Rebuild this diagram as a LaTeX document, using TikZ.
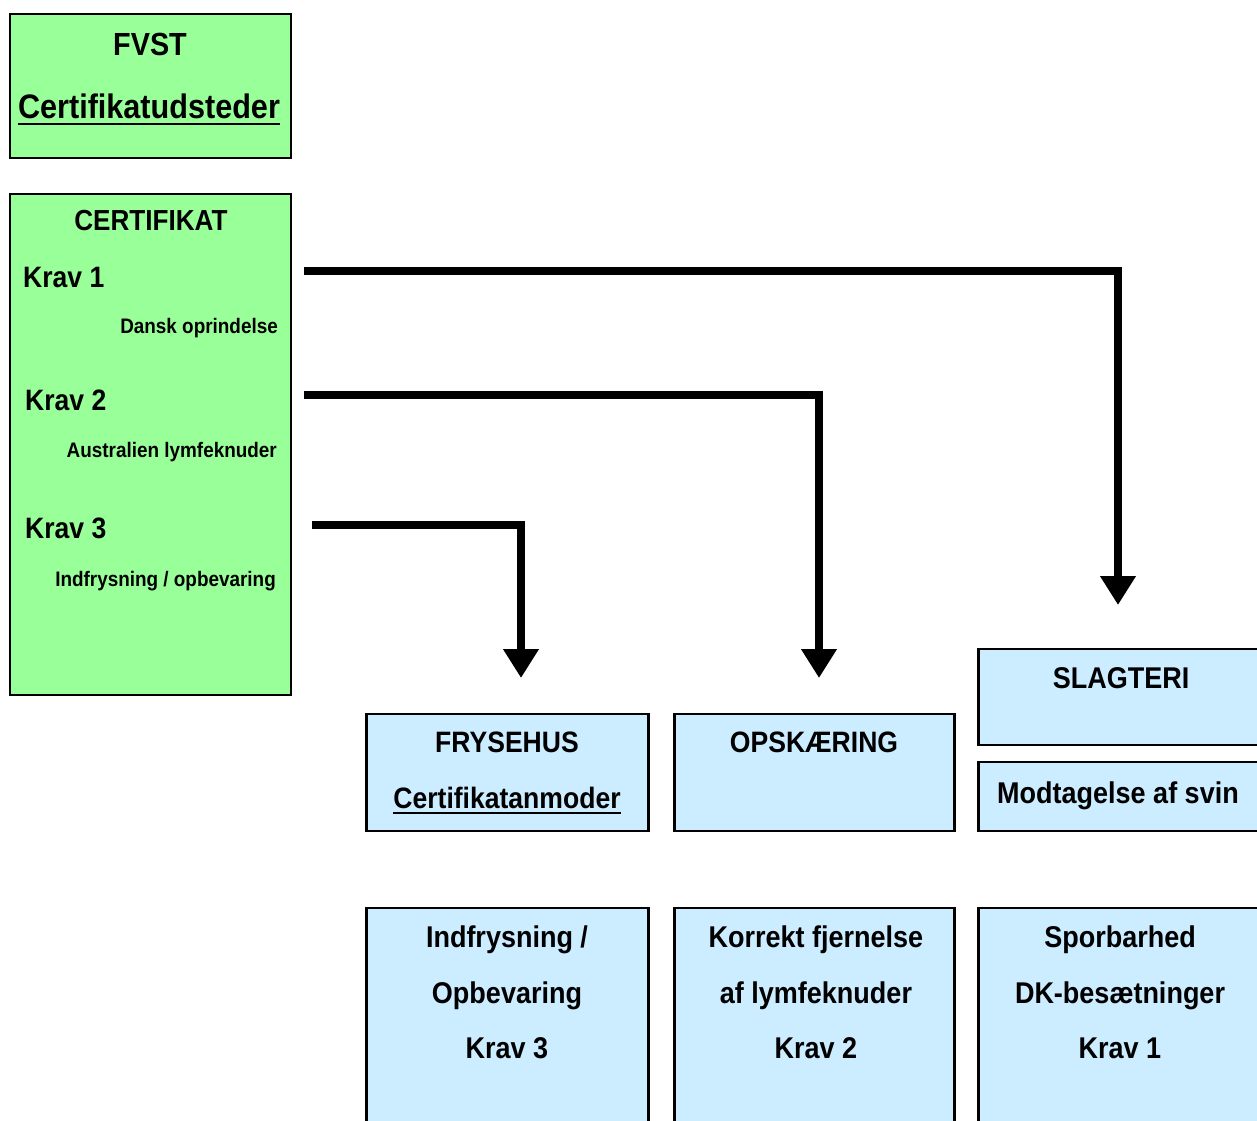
\documentclass[tikz,border=0pt]{standalone}
\usepackage{fontspec}
\setmainfont{Liberation Sans}[FakeStretch=0.9]
\usetikzlibrary{arrows.meta}
\definecolor{boxgreen}{HTML}{99FF99}
\definecolor{boxblue}{HTML}{CCECFF}
\begin{document}
\begin{tikzpicture}[x=1pt,y=-1pt,
  box/.style={draw=black, line width=2.5pt, inner sep=0pt, anchor=north west},
  gbox/.style={box, fill=boxgreen},
  bbox/.style={box, fill=boxblue},
  txt/.style={inner sep=0pt, font=\bfseries\fontsize{#1}{#1}\selectfont},
  txt/.default=30,
  uline/.style={line width=2.2pt},
  conn/.style={line width=8pt, line join=miter, -{Triangle[width=34pt,length=29pt]}}]
\useasboundingbox (0,0) rectangle (1257,1120);
\clip (0,0) rectangle (1257,1120);

% boxes
\node[gbox, minimum width=281pt, minimum height=144pt] (fvst) at (8.5,12.5) {};
\node[gbox, minimum width=281pt, minimum height=501pt] (cert) at (8.5,192.5) {};
\node[bbox, minimum width=282pt, minimum height=117pt] (frys) at (365,712.5) {};
\node[bbox, minimum width=280pt, minimum height=117pt] (opsk) at (673,712.5) {};
\node[bbox, minimum width=280pt, minimum height=96pt] (slag) at (977,647.5) {};
\node[bbox, minimum width=280pt, minimum height=69pt] (modt) at (977,760.5) {};
\node[bbox, minimum width=282pt, minimum height=260pt] (b1) at (365,906.5) {};
\node[bbox, minimum width=280pt, minimum height=260pt] (b2) at (673,906.5) {};
\node[bbox, minimum width=280pt, minimum height=260pt] (b3) at (977,906.5) {};

% FVST texts
\node[txt=32, anchor=base] (fvstt) at (150,55) {FVST};
\node[txt=34, anchor=base] (udst) at (149,118) {Certifikatudsteder};
\draw[uline] ([yshift=-6pt]udst.base west) -- ([yshift=-6pt]udst.base east);

% Certifikat texts
\node[txt=29, anchor=base] (certt) at (151,230) {CERTIFIKAT};
\node[txt=29.5, anchor=base west] (k1) at (23,287) {Krav 1};
\node[txt=21, anchor=base east] (k1d) at (278,333) {Dansk oprindelse};
\node[txt=29.5, anchor=base west] (k2) at (25,410) {Krav 2};
\node[txt=21, anchor=base east] (k2d) at (277,457) {Australien lymfeknuder};
\node[txt=29.5, anchor=base west] (k3) at (25,538) {Krav 3};
\node[txt=21, anchor=base east] (k3d) at (276,586) {Indfrysning / opbevaring};

% department texts
\node[txt=29.5, anchor=base] (fryst) at (507,752) {FRYSEHUS};
\node[txt=29.5, anchor=base] (anm) at (507,808) {Certifikatanmoder};
\draw[uline] ([yshift=-5pt]anm.base west) -- ([yshift=-5pt]anm.base east);
\node[txt=29.5, anchor=base] (opskt) at (814,752) {OPSKÆRING};
\node[txt=30, anchor=base] (slagt) at (1121,688) {SLAGTERI};
\node[txt=30, anchor=base] (modtt) at (1118,803) {Modtagelse af svin};

% bottom texts
\node[txt=30, anchor=base] (b1a) at (507,947) {Indfrysning /};
\node[txt=30, anchor=base] (b1b) at (507,1003) {Opbevaring};
\node[txt=30, anchor=base] (b1c) at (507,1058) {Krav 3};
\node[txt=30, anchor=base] (b2a) at (816,947) {Korrekt fjernelse};
\node[txt=30, anchor=base] (b2b) at (816,1003) {af lymfeknuder};
\node[txt=30, anchor=base] (b2c) at (816,1058) {Krav 2};
\node[txt=30, anchor=base] (b3a) at (1120,947) {Sporbarhed};
\node[txt=30, anchor=base] (b3b) at (1120,1003) {DK-besætninger};
\node[txt=30, anchor=base] (b3c) at (1120,1058) {Krav 1};

% connectors
\coordinate (k1s) at (304,271);
\coordinate (a1e) at (1118,605);
\coordinate (k2s) at (304,395);
\coordinate (a2e) at (819,678);
\coordinate (k3s) at (312,525);
\coordinate (a3e) at (521,678);
\draw[conn] (k1s) -| (a1e);
\draw[conn] (k2s) -| (a2e);
\draw[conn] (k3s) -| (a3e);
\end{tikzpicture}
\end{document}
